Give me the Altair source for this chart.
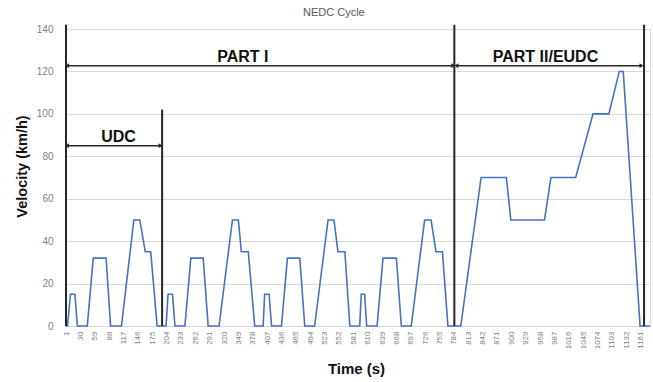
import altair as alt
import pandas as pd

# NEDC speed profile as breakpoints: time (s) and velocity (km/h)
time_s = [1, 4, 10, 19, 24, 44, 56, 82, 91, 113, 138, 150, 161, 172, 185,
          203, 207, 216, 221, 241, 253, 278, 288, 310, 337, 349, 355, 369, 382,
          399, 402, 411, 416, 436, 448, 473, 483, 503, 530, 542, 550, 564, 574,
          594, 597, 604, 608, 629, 641, 668, 678, 698, 725, 738, 748, 761, 772,
          798, 839, 890, 899, 967, 980, 1030, 1065, 1097, 1118, 1126, 1160, 1180]
velocity = [0, 0, 15, 15, 0, 0, 32, 32, 0, 0, 50, 50, 35, 35, 0,
            0, 15, 15, 0, 0, 32, 32, 0, 0, 50, 50, 35, 35, 0,
            0, 15, 15, 0, 0, 32, 32, 0, 0, 50, 50, 35, 35, 0,
            0, 15, 15, 0, 0, 32, 32, 0, 0, 50, 50, 35, 35, 0,
            0, 70, 70, 50, 50, 70, 70, 100, 100, 120, 120, 0, 0]

# Axis ticks
x_ticks = list(range(1, 1162, 29))
y_ticks = [0, 20, 40, 60, 80, 100, 120, 140]

# Phase boundaries (vertical separators)
boundary_t = [1, 195, 785, 1168]
boundary_top = [142, 102, 142, 142]

# Phase spans (double-headed arrows) and their labels
phase_name = ["UDC", "PART I", "PART II/EUDC"]
phase_start = [3, 3, 789]
phase_end = [192, 783, 1163]
phase_level = [85, 122.7, 122.7]
label_t = [107, 358, 969]
label_v = [89, 127, 127]

FONT = "Liberation Sans"
INK = "#262626"

profile = pd.DataFrame({"t": time_s, "v": velocity})
bounds = pd.DataFrame({"t": boundary_t, "top": boundary_top, "bottom": [0] * len(boundary_t)})
phases = pd.DataFrame({"name": phase_name, "start": phase_start, "end": phase_end,
                       "level": phase_level, "lt": label_t, "lv": label_v})

xs = alt.Scale(domain=[1, 1180], nice=False, zero=False)
ys = alt.Scale(domain=[0, 140], nice=False, zero=True)

x_axis = alt.Axis(
    values=x_ticks, format="d", title="Time (s)", labelAngle=-90, grid=False, ticks=False,
    domain=False, labelFontSize=8, labelColor="#7f7f7f", labelPadding=5,
    labelFont=FONT, labelOverlap=False, labelFlush=False,
    titleFont=FONT, titleFontSize=15, titleFontWeight="bold", titleColor="#111111",
    titleX=290, titleY=42, titleBaseline="middle", titleAlign="center")
y_axis = alt.Axis(
    values=y_ticks, format="d", title="Velocity (km/h)", grid=True, gridColor="#d9d9d9",
    gridWidth=1, ticks=False, domain=False, labelFontSize=10,
    labelColor="#7f7f7f", labelPadding=13, labelFont=FONT,
    titleFont=FONT, titleFontSize=14.5, titleFontWeight="bold", titleColor="#111111",
    titleX=-44, titleY=137, titleBaseline="middle", titleAlign="center")

line = alt.Chart(profile).mark_line(color="#4472C4", strokeWidth=1.6, clip=False).encode(
    x=alt.X("t:Q", scale=xs, axis=x_axis),
    y=alt.Y("v:Q", scale=ys, axis=y_axis),
)

vlines = alt.Chart(bounds).mark_rule(color=INK, strokeWidth=2, clip=False).encode(
    x=alt.X("t:Q", scale=xs, axis=x_axis),
    y=alt.Y("bottom:Q", scale=ys, axis=y_axis),
    y2="top:Q",
)

arrows = alt.Chart(phases).mark_rule(color=INK, strokeWidth=1.5, clip=False).encode(
    x=alt.X("start:Q", scale=xs, axis=x_axis),
    x2="end:Q",
    y=alt.Y("level:Q", scale=ys, axis=y_axis),
)

left_heads = alt.Chart(phases).mark_point(
    shape="triangle-left", filled=True, size=22, color=INK, opacity=1, clip=False
).encode(
    x=alt.X("start:Q", scale=xs, axis=x_axis),
    y=alt.Y("level:Q", scale=ys, axis=y_axis),
)

right_heads = alt.Chart(phases).mark_point(
    shape="triangle-right", filled=True, size=22, color=INK, opacity=1, clip=False
).encode(
    x=alt.X("end:Q", scale=xs, axis=x_axis),
    y=alt.Y("level:Q", scale=ys, axis=y_axis),
)

labels = alt.Chart(phases).mark_text(
    font=FONT, fontSize=16, fontWeight="bold", color="#111111", clip=False
).encode(
    x=alt.X("lt:Q", scale=xs, axis=x_axis),
    y=alt.Y("lv:Q", scale=ys, axis=y_axis),
    text="name:N",
)

chart = alt.layer(line, vlines, arrows, left_heads, right_heads, labels).properties(
    width=584,
    height=297,
    padding={"left": 66, "top": 29, "right": 3, "bottom": 56},
    autosize=alt.AutoSizeParams(type="none"),
    title=alt.TitleParams(
        "NEDC Cycle", font=FONT, fontSize=11, fontWeight="normal", color="#595959",
        anchor="start", frame="group", dx=237, offset=6,
    ),
).configure_view(stroke=None).configure(background="white")

chart.save("out.html", embed_options={"renderer": "svg", "actions": False})
